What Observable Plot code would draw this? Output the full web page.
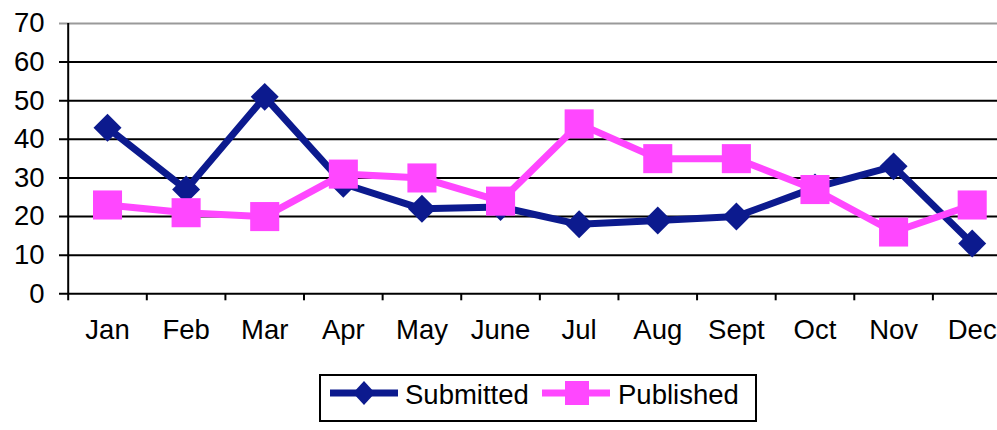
<!DOCTYPE html>
<html>
<head>
<meta charset="utf-8">
<script src="https://cdn.jsdelivr.net/npm/d3@7"></script>
<script src="https://cdn.jsdelivr.net/npm/@observablehq/plot@0.6"></script>
<style>
  html, body { margin: 0; padding: 0; background: #fff; overflow: hidden; }
  #wrap { position: relative; width: 997px; height: 430px; font-family: "Liberation Sans", Arial, sans-serif; }
  #legend { position: absolute; left: 319px; top: 374px; width: 434px; height: 44px; border: 2px solid #000; box-sizing: content-box; }
  #legend .item { position: absolute; top: 0; height: 38px; display: flex; align-items: center; font-size: 27.5px; color: #000; }
</style>
</head>
<body>
<div id="wrap">
  <div id="chart"></div>
  <div id="legend"></div>
</div>
<script>
const months = ["Jan", "Feb", "Mar", "Apr", "May", "June", "Jul", "Aug", "Sept", "Oct", "Nov", "Dec"];
const submitted = [43, 27, 51, 28.5, 22, 22.5, 18, 19, 20, 27.5, 33, 13];
const published = [23, 21, 20, 31, 30, 24, 44, 35, 35, 27, 16, 23];
const yTicks = [0, 10, 20, 30, 40, 50, 60, 70];
const seriesNames = ["Submitted", "Published"];
const seriesColors = ["#0c1a8e", "#ff47ff"];

const idx = months.map((m, i) => i);
const boundaries = months.map((m, i) => i - 0.5).concat([months.length - 0.5]);
const dataS = idx.map(i => ({i, v: submitted[i]}));
const dataP = idx.map(i => ({i, v: published[i]}));

const chart = Plot.plot({
  width: 997,
  height: 360,
  marginLeft: 59,
  marginRight: 0,
  marginTop: 23,
  marginBottom: 66.7,
  x: {type: "linear", domain: [-0.5, 11.5], range: [67.7, 1011]},
  y: {domain: [0, 70]},
  style: {fontFamily: "'Liberation Sans', Arial, sans-serif", fontSize: "27.5px", color: "#000", background: "#fff", overflow: "visible"},
  marks: [
    Plot.ruleY(yTicks.filter(v => v < 70), {stroke: "#000", strokeWidth: 2}),
    Plot.ruleY([70], {stroke: "#9a9a9a", strokeWidth: 2}),
    Plot.ruleX([boundaries[0]], {y1: 0, y2: 70, stroke: "#000", strokeWidth: 2}),
    Plot.axisX(boundaries, {tickSize: 7, tickFormat: () => "", strokeWidth: 2, stroke: "#000", label: null}),
    Plot.axisX(idx, {tickSize: 0, tickPadding: 26, tickFormat: i => months[i], fill: "#000", label: null}),
    Plot.axisY(yTicks, {tickSize: 0, tickPadding: 15, fill: "#000", label: null}),
    Plot.line(dataS, {x: "i", y: "v", stroke: seriesColors[0], strokeWidth: 7, strokeLinejoin: "miter"}),
    Plot.dot(dataS, {x: "i", y: "v", symbol: "diamond2", r: 12.6, fill: seriesColors[0], stroke: "none"}),
    Plot.line(dataP, {x: "i", y: "v", stroke: seriesColors[1], strokeWidth: 7, strokeLinejoin: "miter"}),
    Plot.dot(dataP, {x: "i", y: "v", symbol: "square", r: 16.4, fill: seriesColors[1], stroke: "none"})
  ]
});
document.getElementById("chart").appendChild(chart);

// legend
const legend = document.getElementById("legend");
const layout = [
  {sw: 9, text: 84, kind: "diamond"},
  {sw: 221, text: 297, kind: "square"}
];
seriesNames.forEach((name, k) => {
  const L = layout[k];
  const sw = document.createElementNS("http://www.w3.org/2000/svg", "svg");
  sw.setAttribute("width", 70);
  sw.setAttribute("height", 44);
  sw.style.position = "absolute";
  sw.style.left = L.sw + "px";
  sw.style.top = "0px";
  const c = seriesColors[k];
  let inner = `<line x1="0" x2="68" y1="17" y2="17" stroke="${c}" stroke-width="7"/>`;
  if (L.kind === "diamond") {
    inner += `<path d="M34,5 L45,17 L34,29 L23,17 Z" fill="${c}"/>`;
  } else {
    inner += `<rect x="23" y="5" width="24" height="24" fill="${c}"/>`;
  }
  sw.innerHTML = inner;
  legend.appendChild(sw);
  const t = document.createElement("div");
  t.className = "item";
  t.style.left = L.text + "px";
  t.textContent = name;
  legend.appendChild(t);
});
</script>
</body>
</html>
